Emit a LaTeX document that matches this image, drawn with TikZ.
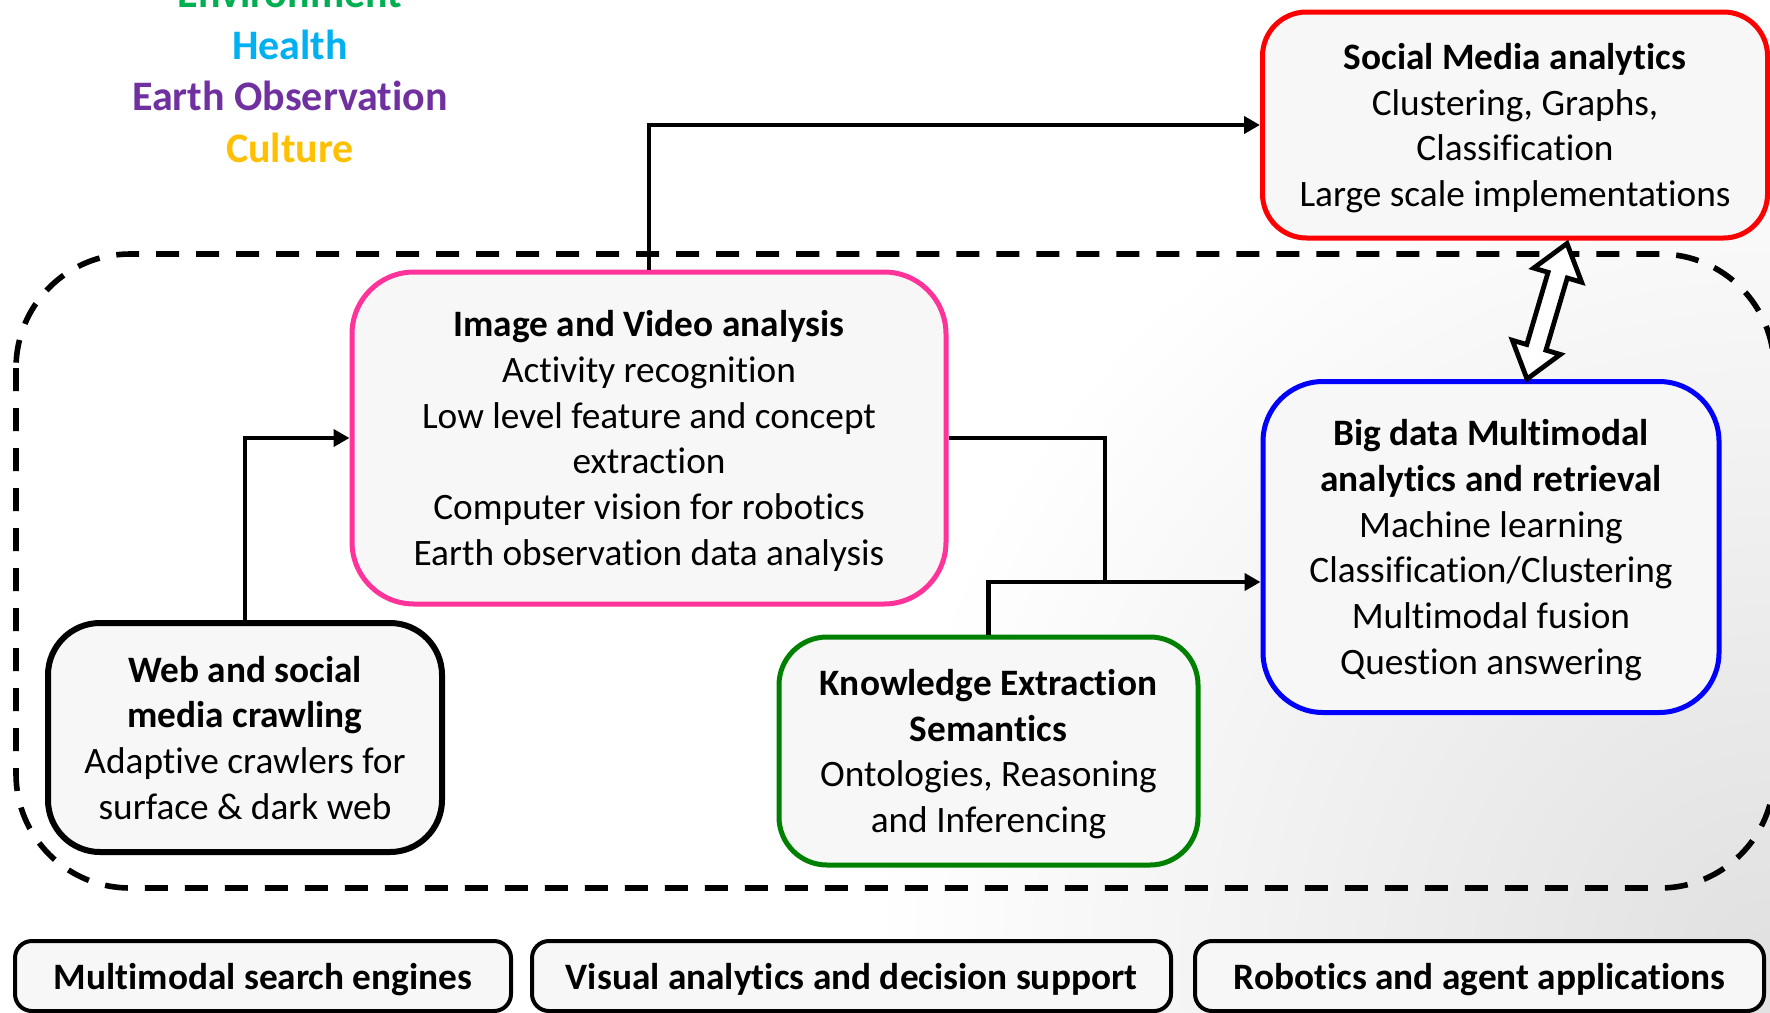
\documentclass[tikz,border=0pt]{standalone}
\usepackage{fontspec}
\setmainfont{Carlito}[Ligatures=NoCommon]
\usetikzlibrary{arrows.meta,calc}
\definecolor{envgreen}{HTML}{00B050}
\definecolor{healthblue}{HTML}{00B0F0}
\definecolor{eopurple}{HTML}{7030A0}
\definecolor{cultgold}{HTML}{FFC000}
\definecolor{boxfill}{HTML}{F7F7F7}
\definecolor{pinkb}{HTML}{FF3399}
\definecolor{greenb}{HTML}{008000}
\definecolor{blueb}{HTML}{0000FF}
\definecolor{redb}{HTML}{FF0000}
\newcommand{\nodepth}[1]{\raisebox{0pt}[\height][0pt]{#1}}
\begin{document}
\begin{tikzpicture}[x=0.5pt,y=-0.5pt,
  box/.style={rectangle, draw, fill=boxfill, align=center, inner sep=0pt,
    font=\fontsize{18.65pt}{22.85pt}\selectfont},
  appbox/.style={box, line width=2pt, rounded corners=8.5pt, minimum height=35pt,
    font=\fontsize{18.65pt}{22.85pt}\selectfont\bfseries},
  toptext/.style={anchor=base, inner sep=0pt,
    font=\fontsize{21pt}{25.75pt}\selectfont\bfseries},
  frame/.style={line width=2.8pt, dash pattern=on 11.5pt off 8.5pt, rounded corners=57pt},
  link/.style={line width=2.2pt, line join=miter},
  conn/.style={link, -{Triangle[length=8pt,width=8.5pt]}},
  dblarrow/.style={line width=2.4pt, fill=white, line join=miter}
]
\useasboundingbox (0,0) rectangle (1770,1012);
\clip (0,0) rectangle (1770,1012);
\fill[white] (0,0) rectangle (1770,1012);
\shade[inner color=black!12, outer color=white] (1770,960) circle (900);

% application areas
\node[toptext, text=envgreen] (t1) at (290,7.5) {Environment};
\node[toptext, text=healthblue] (t2) at (290,59) {Health};
\node[toptext, text=eopurple] (t3) at (290,110.5) {Earth Observation};
\node[toptext, text=cultgold] (t4) at (290,162) {Culture};

% dashed frame
\draw[frame] (16,254) rectangle (1774,888);

% boxes
\node[box, draw=redb, line width=2.5pt, rounded corners=22pt,
  minimum width=252.5pt, minimum height=113pt] (social) at (1515,125)
  {\textbf{Social Media analytics}\\Clustering, Graphs,\\Classification\\\nodepth{Large scale implementations}};
\node[box, draw=pinkb, line width=2.5pt, rounded corners=31pt,
  minimum width=297pt, minimum height=166pt] (img) at (649,438)
  {\textbf{Image and Video analysis}\\Activity recognition\\Low level feature and concept\\extraction\\Computer vision for robotics\\\nodepth{Earth observation data analysis}};
\node[box, draw=black, line width=3pt, rounded corners=26pt,
  minimum width=197pt, minimum height=114.5pt] (web) at (245,737.5)
  {\textbf{Web and social}\\\textbf{media crawling}\\Adaptive crawlers for\\\nodepth{surface \& dark web}};
\node[box, draw=greenb, line width=2.5pt, rounded corners=24pt,
  minimum width=209.5pt, minimum height=114pt] (know) at (988.5,751)
  {\textbf{Knowledge Extraction}\\\textbf{Semantics}\\Ontologies, Reasoning\\\nodepth{and Inferencing}};
\node[box, draw=blueb, line width=2.5pt, rounded corners=30pt,
  minimum width=228pt, minimum height=165.5pt] (big) at (1491,547)
  {\textbf{Big data Multimodal}\\\textbf{analytics and retrieval}\\Machine learning\\Classification/Clustering\\Multimodal fusion\\\nodepth{Question answering}};

% bottom application boxes
\node[appbox, minimum width=248pt] (mse) at (263,976) {\nodepth{Multimodal search engines}};
\node[appbox, minimum width=319.5pt] (vad) at (851.5,976) {\nodepth{Visual analytics and decision support}};
\node[appbox, minimum width=284.5pt] (raa) at (1479.5,976) {\nodepth{Robotics and agent applications}};

% connectors
\coordinate (j) at (1105,582);
\draw[conn] (img.north) |- (social.west);
\draw[conn] (web.north) |- (img.west);
\draw[link] (know.north) |- (j);
\draw[conn] (img.east) -| (j) -- (j -| big.west);

% double arrow between Big data and Social Media
\coordinate (dA) at ([xshift=18pt]big.north);
\coordinate (dB) at ([xshift=26pt,yshift=-1.5pt]social.south);
\coordinate (b1) at ($(dA)!16.5pt!(dB)$);
\coordinate (b2) at ($(dB)!16.5pt!(dA)$);
\draw[dblarrow] (dA)
  -- ($(b1)!12.5pt!90:(dB)$) -- ($(b1)!5pt!90:(dB)$)
  -- ($(b2)!5pt!-90:(dA)$) -- ($(b2)!12.5pt!-90:(dA)$)
  -- (dB)
  -- ($(b2)!12.5pt!90:(dA)$) -- ($(b2)!5pt!90:(dA)$)
  -- ($(b1)!5pt!-90:(dB)$) -- ($(b1)!12.5pt!-90:(dB)$)
  -- cycle;
\end{tikzpicture}
\end{document}
